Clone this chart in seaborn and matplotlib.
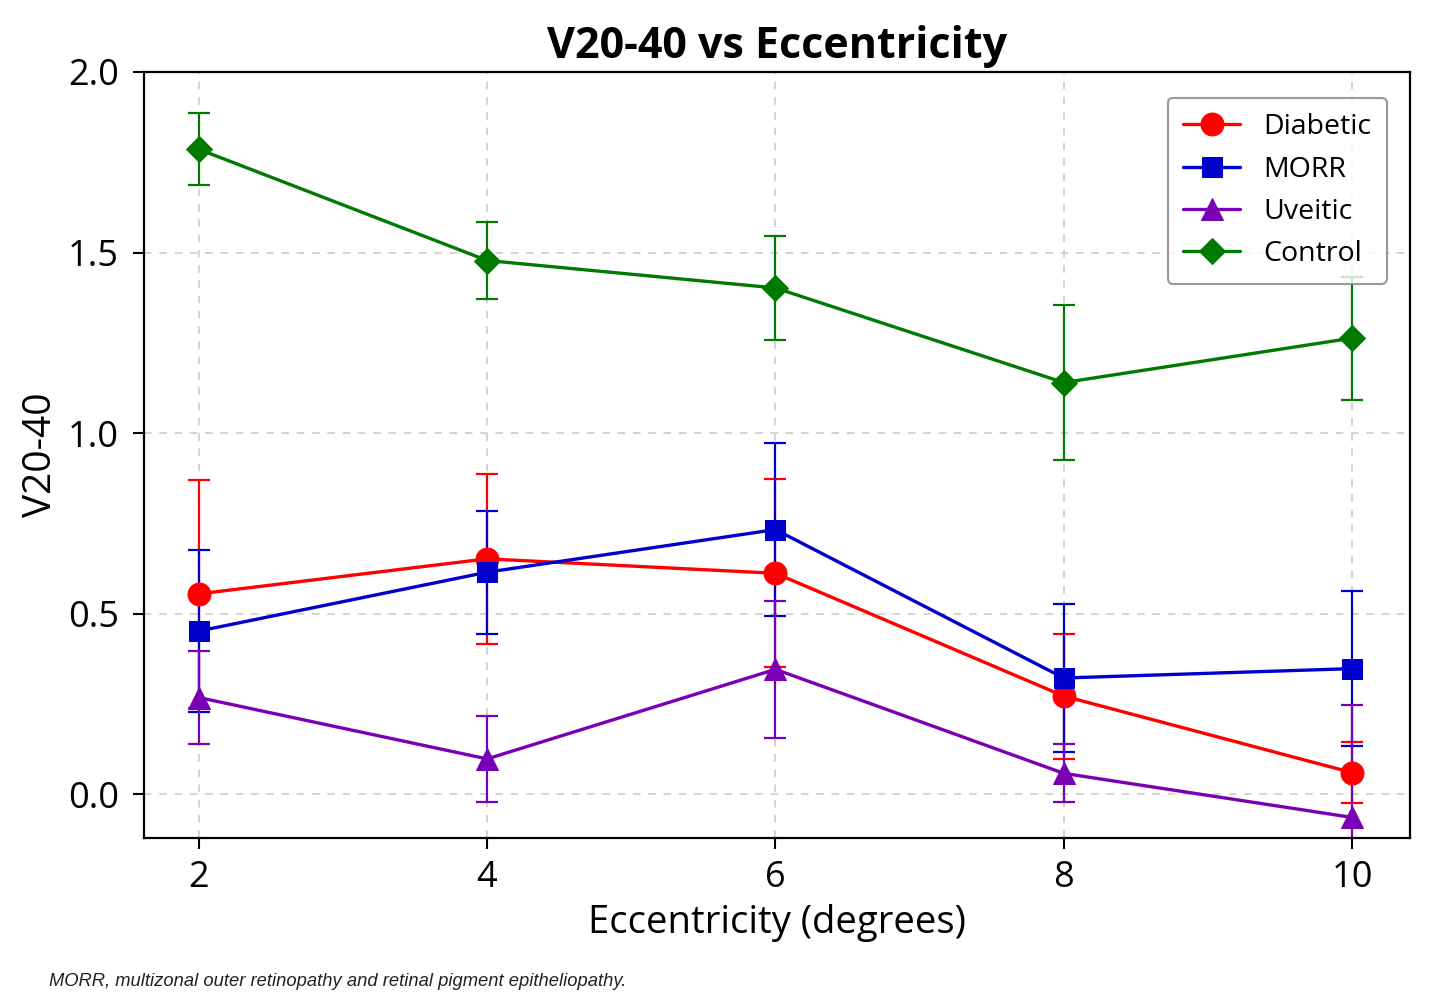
import matplotlib
matplotlib.use("Agg")
import matplotlib.pyplot as plt
import seaborn as sns
import pandas as pd
import numpy as np

eccentricity = [2, 4, 6, 8, 10]
groups = ["Diabetic", "MORR", "Uveitic", "Control"]
diabetic = [0.555, 0.652, 0.612, 0.272, 0.060]
diabetic_err = [0.315, 0.235, 0.26, 0.173, 0.085]
morr = [0.452, 0.615, 0.733, 0.322, 0.348]
morr_err = [0.225, 0.17, 0.24, 0.205, 0.215]
uveitic = [0.268, 0.098, 0.346, 0.058, -0.064]
uveitic_err = [0.13, 0.12, 0.19, 0.08, 0.31]
control = [1.786, 1.478, 1.402, 1.140, 1.263]
control_err = [0.10, 0.106, 0.145, 0.214, 0.17]

colors = {"Diabetic": "#ff0000", "MORR": "#0000cc", "Uveitic": "#7a00b5", "Control": "#007a00"}
markers = {"Diabetic": "o", "MORR": "s", "Uveitic": "^", "Control": "D"}
msizes = {"Diabetic": 16.5, "MORR": 15, "Uveitic": 16.5, "Control": 13.5}

vals = {"Diabetic": diabetic, "MORR": morr, "Uveitic": uveitic, "Control": control}
errs = {"Diabetic": diabetic_err, "MORR": morr_err, "Uveitic": uveitic_err, "Control": control_err}

rows = []
for g in groups:
    for x, v, e in zip(eccentricity, vals[g], errs[g]):
        rows.append({"Eccentricity": x, "V20-40": v, "err": e, "Group": g})
df = pd.DataFrame(rows)

sns.set_style("white")
plt.rcParams['font.family'] = ['Open Sans', 'DejaVu Sans']
plt.rcParams['text.color'] = 'black'
plt.rcParams['axes.labelcolor'] = 'black'
plt.rcParams['xtick.color'] = 'black'
plt.rcParams['ytick.color'] = 'black'

fig = plt.figure(figsize=(14.4, 10.08), dpi=100)
ax = fig.add_axes([0.1, 0.169, 0.879, 0.7596])

for g in groups:
    sub = df[df["Group"] == g]
    ax.errorbar(sub["Eccentricity"], sub["V20-40"], yerr=sub["err"], fmt="none",
                ecolor=colors[g], elinewidth=1.6, capsize=8, capthick=1.6, zorder=2)

for g in groups:
    sub = df[df["Group"] == g]
    sns.lineplot(data=sub, x="Eccentricity", y="V20-40", ax=ax, color=colors[g],
                 marker=markers[g], markersize=msizes[g], markeredgecolor=colors[g],
                 linewidth=2.4, label=g, zorder=3)

ax.set_xlim(1.62, 10.4)
ax.set_ylim(-0.12, 2.0)
ax.set_xticks(eccentricity)
ax.set_yticks([0.0, 0.5, 1.0, 1.5, 2.0])
ax.set_yticklabels(["0.0", "0.5", "1.0", "1.5", "2.0"])
ax.grid(True, linestyle=(0, (5, 5)), color="#c8c8c8", linewidth=1.1)
ax.set_axisbelow(True)
for s in ax.spines.values():
    s.set_color("black")
    s.set_linewidth(1.6)
ax.tick_params(axis="both", labelsize=26, length=8, width=1.5, direction="out",
               bottom=True, left=True, color="black")
ax.tick_params(axis="y", pad=10)
ax.tick_params(axis="x", pad=8)
ax.set_xlabel("Eccentricity (degrees)", fontsize=27.5, labelpad=6)
ax.set_ylabel("V20-40", fontsize=28, labelpad=6)
ax.set_title("V20-40 vs Eccentricity", fontsize=31, fontweight="bold", pad=10)

leg = ax.legend(loc="upper right", fontsize=20.5, frameon=True, fancybox=True,
                borderpad=0.55, labelspacing=0.5, handlelength=2.0, handletextpad=0.8,
                bbox_to_anchor=(0.993, 0.985))
leg.get_frame().set_edgecolor("#808080")
leg.get_frame().set_linewidth(1.5)

fig.text(0.034, 0.022, "MORR, multizonal outer retinopathy and retinal pigment epitheliopathy.",
         fontsize=13.2, style="italic", family=["Liberation Sans", "DejaVu Sans"],
         color="#222222")

fig.savefig("out.png", dpi=100)
